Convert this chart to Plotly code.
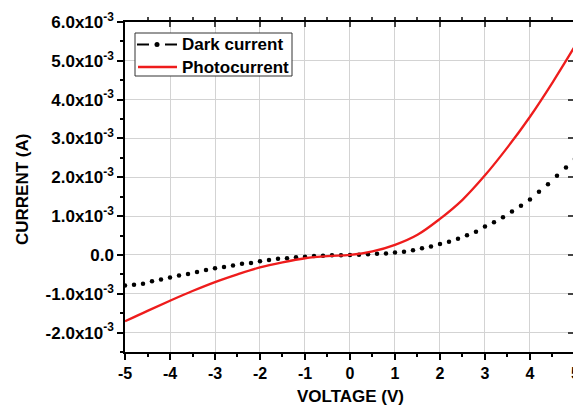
import plotly.graph_objects as go

# Dark current (A) measured every 0.2 V
dark_v = [round(-5 + 0.2 * i, 1) for i in range(51)]
dark_i_mA = [-0.79, -0.77, -0.74, -0.68, -0.63, -0.58, -0.53, -0.49, -0.44, -0.39,
             -0.34, -0.31, -0.27, -0.23, -0.21, -0.16, -0.13, -0.10, -0.085, -0.06,
             -0.044, -0.026, -0.018, -0.01, -0.005, 0.0, 0.003, 0.017, 0.03, 0.04,
             0.06, 0.085, 0.12, 0.17, 0.22, 0.28, 0.34, 0.42, 0.51, 0.60,
             0.73, 0.84, 0.97, 1.12, 1.27, 1.43, 1.63, 1.82, 2.04, 2.25, 2.47]
dark_i = [v * 1e-3 for v in dark_i_mA]

# Photocurrent (A)
photo_v = [-5, -4.5, -4, -3.5, -3, -2.5, -2, -1.5, -1, -0.5, 0,
           0.5, 1, 1.5, 2, 2.5, 3, 3.5, 4, 4.5, 5]
photo_i_mA = [-1.71, -1.44, -1.18, -0.93, -0.70, -0.50, -0.32, -0.19, -0.085, -0.03, 0.0,
              0.09, 0.26, 0.52, 0.93, 1.42, 2.05, 2.77, 3.56, 4.44, 5.38]
photo_i = [v * 1e-3 for v in photo_i_mA]

x_ticks = [-5, -4, -3, -2, -1, 0, 1, 2, 3, 4, 5]
y_tickvals = [-2e-3, -1e-3, 0, 1e-3, 2e-3, 3e-3, 4e-3, 5e-3, 6e-3]
y_ticktext = ["-2.0x10<sup>-3</sup>", "-1.0x10<sup>-3</sup>", "0.0",
              "1.0x10<sup>-3</sup>", "2.0x10<sup>-3</sup>", "3.0x10<sup>-3</sup>",
              "4.0x10<sup>-3</sup>", "5.0x10<sup>-3</sup>", "6.0x10<sup>-3</sup>"]
legend_names = ["Dark current", "Photocurrent"]

FONT = "Liberation Sans, Arial, sans-serif"
RED = "#ee1c1c"
XR = [-5, 4.956]
YR = [-2.5e-3, 6e-3]

# plot area in pixels (for legend placement)
L, T, W, H = 125, 22, 448, 330


def px(xp):
    return (xp - L) / W


def py(yp):
    return (T + H - yp) / H


fig = go.Figure()
fig.add_trace(go.Scatter(x=dark_v, y=dark_i, mode="markers",
                         marker=dict(color="black", size=4.5),
                         showlegend=False, name=legend_names[0]))
fig.add_trace(go.Scatter(x=photo_v, y=photo_i, mode="lines",
                         line=dict(color=RED, width=2.3, shape="spline"),
                         showlegend=False, name=legend_names[1]))
# invisible trace for mirrored (inside-tick) axes
fig.add_trace(go.Scatter(x=[None], y=[None], xaxis="x2", yaxis="y2",
                         showlegend=False, hoverinfo="skip"))

shapes = [
    # legend box
    dict(type="rect", xref="paper", yref="paper", x0=px(135), x1=px(292),
         y0=py(76), y1=py(33), fillcolor="white", line=dict(color="#333333", width=1),
         layer="above"),
    # dark current symbol: dash - dot - dash
    dict(type="line", xref="paper", yref="paper", x0=px(137), x1=px(149),
         y0=py(44.5), y1=py(44.5), line=dict(color="black", width=2), layer="above"),
    dict(type="line", xref="paper", yref="paper", x0=px(165), x1=px(177),
         y0=py(44.5), y1=py(44.5), line=dict(color="black", width=2), layer="above"),
    dict(type="circle", xref="paper", yref="paper", x0=px(154.5), x1=px(159.5),
         y0=py(47), y1=py(42), fillcolor="black", line=dict(color="black", width=0),
         layer="above"),
    # photocurrent symbol
    dict(type="line", xref="paper", yref="paper", x0=px(138), x1=px(177),
         y0=py(67), y1=py(67), line=dict(color=RED, width=2.3), layer="above"),
]

fig.update_layout(
    width=573, height=405,
    margin=dict(l=L, r=0, t=T, b=405 - T - H),
    paper_bgcolor="white", plot_bgcolor="white",
    font=dict(family=FONT, size=16, color="black"),
    showlegend=False,
    shapes=shapes,
    xaxis=dict(range=XR, tickmode="array", tickvals=x_ticks,
               ticktext=[f"<b>{t}</b>" for t in x_ticks],
               showgrid=True, gridcolor="#d3d3d3", gridwidth=1,
               zeroline=False, showline=True, linecolor="black", linewidth=1.5,
               ticks="outside", ticklen=6, tickwidth=1.5, tickcolor="black",
               minor=dict(tickmode="linear", tick0=0, dtick=0.5, ticklen=3,
                          tickwidth=1.5, tickcolor="black", showgrid=False),
               tickfont=dict(family=FONT, size=16)),
    yaxis=dict(range=YR, tickmode="array", tickvals=y_tickvals,
               ticktext=[f"<b>{t}</b>" for t in y_ticktext],
               showgrid=True, gridcolor="#d3d3d3", gridwidth=1,
               zeroline=False, showline=True, linecolor="black", linewidth=1.5,
               ticks="outside", ticklen=6, tickwidth=1.5, tickcolor="black",
               minor=dict(tickmode="linear", tick0=0, dtick=0.5e-3, ticklen=3,
                          tickwidth=1.5, tickcolor="black", showgrid=False),
               tickfont=dict(family=FONT, size=17)),
    xaxis2=dict(range=XR, overlaying="x", side="top", anchor="y2",
                tickmode="array", tickvals=x_ticks, showticklabels=False,
                showgrid=False, zeroline=False, showline=True, linecolor="black",
                linewidth=1.5, ticks="inside", ticklen=5, tickwidth=1.5,
                minor=dict(tickmode="linear", tick0=0, dtick=0.5, ticklen=3,
                           tickwidth=1.5, showgrid=False)),
    yaxis2=dict(range=YR, overlaying="y", side="right", anchor="x2",
                tickmode="array", tickvals=y_tickvals, showticklabels=False,
                showgrid=False, zeroline=False, showline=True, linecolor="black",
                linewidth=1.5, ticks="inside", ticklen=5, tickwidth=1.5,
                minor=dict(tickmode="linear", tick0=0, dtick=0.5e-3, ticklen=3,
                           tickwidth=1.5, showgrid=False)),
    annotations=[
        dict(text="<b>VOLTAGE (V)</b>", xref="paper", yref="paper",
             x=px(350), y=py(396), xanchor="center", yanchor="middle",
             showarrow=False, font=dict(family=FONT, size=17)),
        dict(text="<b>CURRENT (A)</b>", xref="paper", yref="paper",
             x=px(23), y=py(190), xanchor="center", yanchor="middle", textangle=-90,
             showarrow=False, font=dict(family=FONT, size=17)),
        dict(text="<b>5</b>", xref="paper", yref="paper", x=px(575), y=py(373),
             xanchor="center", yanchor="middle", showarrow=False,
             font=dict(family=FONT, size=16)),
        dict(text=f"<b>{legend_names[0]}</b>", xref="paper", yref="paper",
             x=px(180), y=py(44.5), xanchor="left", yanchor="middle",
             showarrow=False, font=dict(family=FONT, size=17)),
        dict(text=f"<b>{legend_names[1]}</b>", xref="paper", yref="paper",
             x=px(180), y=py(67), xanchor="left", yanchor="middle",
             showarrow=False, font=dict(family=FONT, size=17)),
    ],
)

fig.write_html("out.html")
